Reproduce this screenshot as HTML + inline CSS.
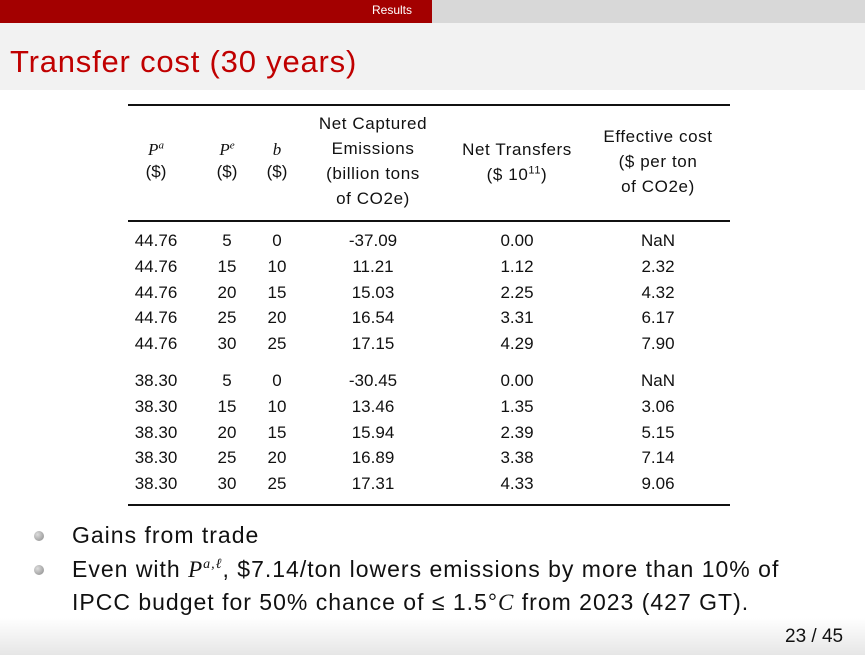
<!DOCTYPE html>
<html><head><meta charset="utf-8"><style>
body{margin:0;width:865px;height:655px;position:relative;overflow:hidden;background:#fff;font-family:"Liberation Sans",sans-serif;color:#111}
.a{position:absolute;white-space:nowrap}
.c{position:absolute;transform:translateX(-50%);text-align:center;white-space:nowrap}
.t{font-size:17px}
.h{letter-spacing:0.6px}
.rule{position:absolute;left:128px;width:602px;background:#111}
i{font-family:"Liberation Serif",serif}
sup{line-height:0}
</style></head><body>
<div class="a" style="left:0;top:0;width:432px;height:23px;background:#a30000"></div>
<div class="a" style="left:432px;top:0;width:433px;height:23px;background:#d8d8d8"></div>
<div class="a" style="left:372px;top:3px;font-size:12px;color:#fff">Results</div>
<div class="a" style="left:0;top:23px;width:865px;height:67px;background:#f2f2f2"></div>
<div class="a" style="left:10px;top:44px;font-size:31px;color:#c00000;letter-spacing:0.8px">Transfer cost (30 years)</div>

<div class="rule" style="top:104px;height:2px"></div>
<div class="rule" style="top:220px;height:1.5px"></div>
<div class="rule" style="top:504px;height:2px"></div>

<div class="c t" style="left:156px;top:139px;line-height:22px"><i>P</i><sup style="font-size:11px"><i>a</i></sup><br>($)</div>
<div class="c t" style="left:227px;top:139px;line-height:22px"><i>P</i><sup style="font-size:11px"><i>e</i></sup><br>($)</div>
<div class="c t" style="left:277px;top:139px;line-height:22px"><i>b</i><br>($)</div>
<div class="c t h" style="left:373px;top:111px;line-height:25px">Net Captured<br>Emissions<br>(billion tons<br>of CO2e)</div>
<div class="c t h" style="left:517px;top:137px;line-height:25px">Net Transfers<br>($ 10<sup style="font-size:11px">11</sup>)</div>
<div class="c t h" style="left:658px;top:124px;line-height:25px">Effective cost<br>($ per ton<br>of CO2e)</div>

<div class="c t" style="left:156px;top:228px;line-height:25.8px">44.76<br>44.76<br>44.76<br>44.76<br>44.76</div>
<div class="c t" style="left:227px;top:228px;line-height:25.8px">5<br>15<br>20<br>25<br>30</div>
<div class="c t" style="left:277px;top:228px;line-height:25.8px">0<br>10<br>15<br>20<br>25</div>
<div class="c t" style="left:373px;top:228px;line-height:25.8px">-37.09<br>11.21<br>15.03<br>16.54<br>17.15</div>
<div class="c t" style="left:517px;top:228px;line-height:25.8px">0.00<br>1.12<br>2.25<br>3.31<br>4.29</div>
<div class="c t" style="left:658px;top:228px;line-height:25.8px">NaN<br>2.32<br>4.32<br>6.17<br>7.90</div>

<div class="c t" style="left:156px;top:368px;line-height:25.8px">38.30<br>38.30<br>38.30<br>38.30<br>38.30</div>
<div class="c t" style="left:227px;top:368px;line-height:25.8px">5<br>15<br>20<br>25<br>30</div>
<div class="c t" style="left:277px;top:368px;line-height:25.8px">0<br>10<br>15<br>20<br>25</div>
<div class="c t" style="left:373px;top:368px;line-height:25.8px">-30.45<br>13.46<br>15.94<br>16.89<br>17.31</div>
<div class="c t" style="left:517px;top:368px;line-height:25.8px">0.00<br>1.35<br>2.39<br>3.38<br>4.33</div>
<div class="c t" style="left:658px;top:368px;line-height:25.8px">NaN<br>3.06<br>5.15<br>7.14<br>9.06</div>

<div class="a" style="left:0;top:618px;width:865px;height:37px;background:linear-gradient(#fff,#e6e6e6)"></div>

<div class="a" style="left:34px;top:531px;width:10px;height:10px;border-radius:50%;background:radial-gradient(circle at 35% 35%,#ddd,#888)"></div>
<div class="a" style="left:34px;top:565px;width:10px;height:10px;border-radius:50%;background:radial-gradient(circle at 35% 35%,#ddd,#888)"></div>
<div class="a" style="left:72px;top:519px;font-size:23px;line-height:32px;letter-spacing:1px">Gains from trade</div>
<div class="a" style="left:72px;top:553px;font-size:23px;line-height:33px;letter-spacing:1px">Even with <i>P</i><sup style="font-size:14px"><i>a,ℓ</i></sup>, $7.14/ton lowers emissions by more than 10% of<br>IPCC budget for 50% chance of ≤ 1.5°<i>C</i> from 2023 (427 GT).</div>

<div class="a" style="left:785px;top:626px;font-size:19px">23 / 45</div>
</body></html>
